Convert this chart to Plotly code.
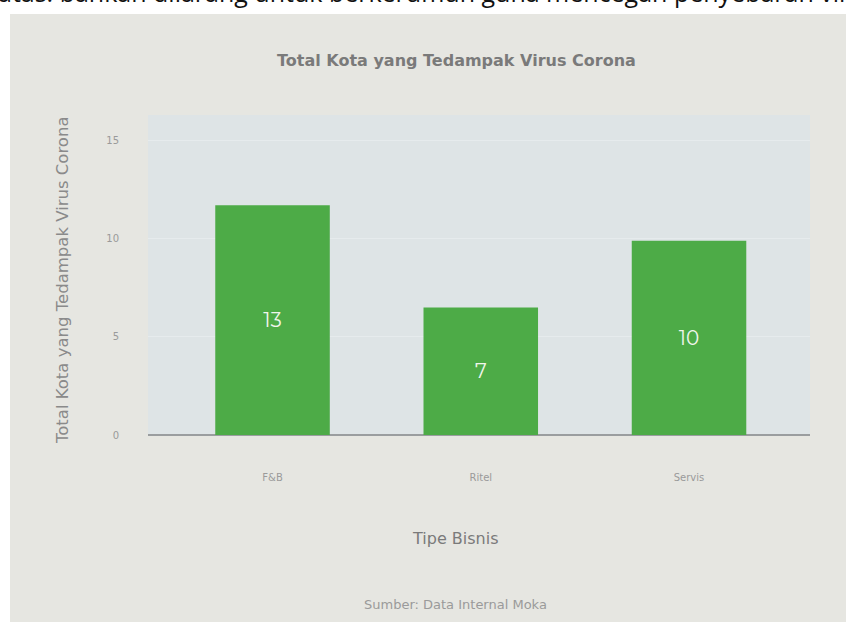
import plotly.graph_objects as go

categories = ["F&B", "Ritel", "Servis"]
bar_heights = [11.7, 6.5, 9.9]
bar_labels = ["13", "7", "10"]
y_ticks = [0, 5, 10, 15]

W, H = 846, 623
L, R, T, B = 148, 810, 115, 435  # plot area in pixels

def px(x):
    return (x - L) / (R - L)

def py(y):
    return (B - y) / (B - T)

fig = go.Figure()
fig.add_trace(go.Bar(
    x=categories, y=bar_heights, text=bar_labels,
    textposition="inside", insidetextanchor="middle",
    textfont=dict(family="Montserrat, Lato, Open Sans, sans-serif", size=20, color="#f1f6ec"),
    marker=dict(color="#4dab47", line=dict(width=0)),
    width=0.55, cliponaxis=False, hoverinfo="skip",
))

fig.update_layout(
    width=W, height=H,
    margin=dict(l=L, r=W - R, t=T, b=H - B),
    paper_bgcolor="white", plot_bgcolor="#dee4e6",
    showlegend=False,
    font=dict(family="DejaVu Sans, sans-serif"),
    uniformtext=dict(minsize=8, mode="show"),
)
fig.update_xaxes(
    range=[-0.598, 2.581], showgrid=False, zeroline=False,
    showline=False, ticks="",
    tickfont=dict(size=10, color="#9a9a9a"), ticklabelstandoff=35,
)
fig.update_yaxes(
    range=[0, 16.3], tickvals=y_ticks, showgrid=True, gridcolor="#e6ebed", gridwidth=1,
    zeroline=True, zerolinecolor="#9a9d9f", zerolinewidth=1.5,
    showline=False, ticks="",
    tickfont=dict(size=10, color="#9a9a9a"), ticklabelstandoff=28,
)

# gray panel behind the chart
fig.add_shape(type="rect", xref="paper", yref="paper", layer="below",
              x0=px(10), x1=px(846), y0=py(622), y1=py(14),
              fillcolor="#e6e6e1", line=dict(width=0))
# light blue plot area
fig.add_shape(type="rect", xref="paper", yref="paper", layer="below",
              x0=0, x1=1, y0=0, y1=1,
              fillcolor="#dee4e6", line=dict(width=0))

# cut-off article text at the very top
fig.add_annotation(xref="paper", yref="paper", x=px(-4), y=py(11), xanchor="left", yanchor="bottom",
                   text="atas: bahkan dilarang untuk berkerumun guna mencegah penyebaran virus corona",
                   showarrow=False, font=dict(family="Open Sans, sans-serif", size=25, color="#111"))

fig.add_annotation(xref="paper", yref="paper", x=px(456), y=py(60), xanchor="center", yanchor="middle",
                   text="<b>Total Kota yang Tedampak Virus Corona</b>", showarrow=False,
                   font=dict(size=16, color="#7a7a7a"))
fig.add_annotation(xref="paper", yref="paper", x=px(62), y=py(280), xanchor="center", yanchor="middle",
                   text="Total Kota yang Tedampak Virus Corona", textangle=-90, showarrow=False,
                   font=dict(size=16.5, color="#8a8a8a"))
fig.add_annotation(xref="paper", yref="paper", x=px(455), y=py(538), xanchor="center", yanchor="middle",
                   text="Tipe Bisnis", showarrow=False, font=dict(size=16, color="#7a7a7a"))
fig.add_annotation(xref="paper", yref="paper", x=px(455), y=py(604), xanchor="center", yanchor="middle",
                   text="Sumber: Data Internal Moka", showarrow=False, font=dict(size=13, color="#9a9a9a"))

fig.write_html("out.html")
